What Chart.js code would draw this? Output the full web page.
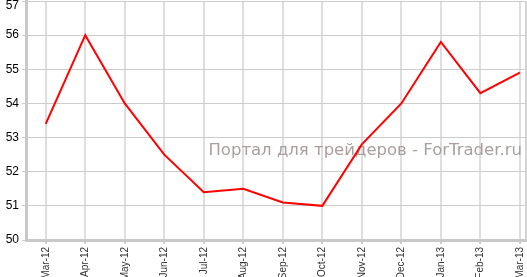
<!DOCTYPE html>
<html>
<head>
<meta charset="utf-8">
<script src="https://cdn.jsdelivr.net/npm/chart.js@4"></script>
<style>
  html, body { margin: 0; padding: 0; background: #fff; }
  #wrap { width: 527px; height: 277px; position: relative; }
</style>
</head>
<body>
<div id="wrap"><canvas id="chart"></canvas></div>
<script>
const months = ["Mar-12", "Apr-12", "May-12", "Jun-12", "Jul-12", "Aug-12", "Sep-12", "Oct-12", "Nov-12", "Dec-12", "Jan-13", "Feb-13", "Mar-13"]
const values = [53.4, 56.0, 54.0, 52.5, 51.4, 51.5, 51.1, 51.0, 52.8, 54.0, 55.8, 54.3, 54.9]
const yTicks = [50, 51, 52, 53, 54, 55, 56, 57]
const watermark = "Портал для трейдеров - ForTrader.ru"
const yFont = "12px 'Liberation Sans', Arial, sans-serif"
const yMax = yTicks[yTicks.length - 1]

const extras = {
  id: "extras",
  beforeDatasetsDraw(chart) {
    const { ctx, chartArea } = chart
    ctx.save()
    // right border of the plot
    ctx.strokeStyle = "#d4d4d4"
    ctx.lineWidth = 2
    ctx.beginPath()
    ctx.moveTo(chartArea.right - 1, chartArea.top)
    ctx.lineTo(chartArea.right - 1, chartArea.bottom)
    ctx.stroke()
    // watermark
    ctx.fillStyle = "#aa9e9e"
    ctx.font = "16.5px 'DejaVu Sans', sans-serif"
    ctx.textAlign = "right"
    ctx.textBaseline = "alphabetic"
    ctx.fillText(watermark, 522, 155)
    // top y label is pushed inside the canvas
    const y = chart.scales.y
    ctx.fillStyle = "#000"
    ctx.font = yFont
    ctx.textAlign = "right"
    ctx.textBaseline = "top"
    ctx.fillText(String(yMax), y.right - 7, y.getPixelForValue(yMax) - 1)
    ctx.restore()
  }
}

new Chart(document.getElementById("chart"), {
  type: "line",
  data: {
    datasets: [{
      data: values.map((v, i) => ({ x: i, y: v })),
      borderColor: "#ff0000",
      borderWidth: 2,
      pointRadius: 0,
      tension: 0,
      fill: false
    }]
  },
  options: {
    responsive: true,
    maintainAspectRatio: false,
    animation: false,
    layout: { padding: { top: 1, right: 0, left: 0, bottom: 0 } },
    plugins: { legend: { display: false }, tooltip: { enabled: false } },
    scales: {
      x: {
        type: "linear",
        min: -0.5,
        max: 12.18,
        afterBuildTicks(scale) { scale.ticks = months.map((m, i) => ({ value: i })) },
        afterFit(scale) {
          scale.height = 37
          scale.paddingLeft = 0
          scale.paddingRight = 0
        },
        grid: { color: "#dedede", lineWidth: 2, tickLength: 4, tickColor: "#cccccc" },
        border: { color: "#c8c8c8", width: 3 },
        ticks: {
          autoSkip: false,
          maxRotation: 90,
          minRotation: 90,
          padding: 3,
          color: "#333",
          font: { family: "'Liberation Sans', Arial, sans-serif", size: 10 },
          callback: (v) => months[v]
        }
      },
      y: {
        min: 50,
        max: 57,
        afterBuildTicks(scale) { scale.ticks = yTicks.map(v => ({ value: v })) },
        afterFit(scale) {
          scale.width = 26
          scale.paddingTop = 0
          scale.paddingBottom = 0
        },
        grid: { color: "#cccccc", lineWidth: 1, tickLength: 4 },
        border: { color: "#c8c8c8", width: 3 },
        ticks: {
          padding: 3,
          color: "#000",
          font: { family: "'Liberation Sans', Arial, sans-serif", size: 12 },
          callback: (v) => v === yMax ? "" : v
        }
      }
    }
  },
  plugins: [extras]
})
</script>
</body>
</html>
